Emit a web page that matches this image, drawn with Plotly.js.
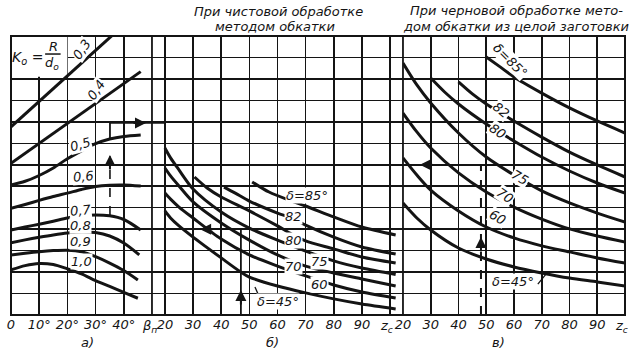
<!DOCTYPE html>
<html><head><meta charset="utf-8">
<script src="https://cdn.plot.ly/plotly-3.0.1.min.js"></script>
<style>html,body{margin:0;padding:0;background:#fff}</style>
</head><body><div id="chart" style="width:635px;height:352px"></div>
<script>
// ---------- Panel а) : K0 = R/d0 curves, x = beta_n (deg), y = grid units ----------
const k03_b = [0, 36];
const k03_y = [8.77, 13.04];
const k04_b = [0, 46];
const k04_y = [7.07, 11.34];
const k05_b = [0, 5, 10, 15, 20, 25, 30, 35, 40, 46];
const k05_y = [6.06, 6.23, 6.5, 6.85, 7.28, 7.65, 7.98, 8.2, 8.32, 8.39];
const k06_b = [0, 5, 10, 15, 20, 25, 30, 35, 40, 46];
const k06_y = [4.97, 5.15, 5.34, 5.52, 5.68, 5.85, 5.99, 6.05, 6.06, 6.01];
const k07_b = [0, 5, 10, 15, 20, 25, 30, 35, 40, 46];
const k07_y = [3.96, 4.1, 4.23, 4.37, 4.52, 4.62, 4.66, 4.62, 4.45, 3.96];
const k08_b = [0, 5, 10, 15, 20, 25, 30, 35, 40, 45.5];
const k08_y = [3.37, 3.5, 3.62, 3.73, 3.82, 3.87, 3.84, 3.68, 3.35, 2.8];
const k09_b = [0, 5, 10, 15, 20, 25, 30, 35, 40, 45];
const k09_y = [2.8, 2.88, 2.95, 3.0, 3.02, 2.95, 2.72, 2.42, 2.07, 1.63];
const k10_b = [0, 5, 10, 15, 20, 25, 30, 35, 40, 45];
const k10_y = [2.1, 2.3, 2.4, 2.35, 2.15, 1.92, 1.6, 1.33, 1.05, 0.78];

// ---------- Panel б) : finishing, x = z_c ----------
const b85_z = [51, 57, 65, 70, 80, 90, 102];
const b85_y = [6.2, 5.73, 5.31, 5.08, 4.57, 4.1, 3.73];
const b82_z = [41, 45, 50, 60, 65, 70, 80, 90, 102];
const b82_y = [5.96, 5.68, 5.31, 4.75, 4.52, 4.19, 3.63, 3.17, 2.84];
const b80_z = [30.5, 35, 40, 50, 60, 65, 70, 80, 90, 102];
const b80_y = [6.43, 5.92, 5.5, 4.85, 4.15, 3.77, 3.45, 3.08, 2.7, 2.42];
const b75_z = [20, 22, 25, 30, 40, 50, 60, 70, 80, 90, 102];
const b75_y = [7.78, 7.32, 6.76, 5.87, 4.8, 4.05, 3.49, 2.98, 2.52, 2.19, 1.89];
const b70_z = [20, 22, 25, 30, 40, 50, 60, 70, 80, 90, 102];
const b70_y = [6.85, 6.48, 6.01, 5.27, 4.29, 3.49, 2.8, 2.28, 1.96, 1.68, 1.35];
const b60_z = [20, 22, 25, 30, 40, 50, 60, 70, 80, 90, 102];
const b60_y = [5.68, 5.4, 5.03, 4.52, 3.54, 2.8, 2.28, 1.82, 1.4, 1.07, 0.79];
const b45_z = [20, 22, 25, 30, 40, 47, 50, 60, 70, 80, 90, 102];
const b45_y = [4.85, 4.52, 4.15, 3.63, 2.66, 2.0, 1.77, 1.35, 1.03, 0.75, 0.51, 0.28];

// ---------- Panel в) : roughing from solid blank, x = z_c ----------
const c85_z = [50, 55, 60, 70, 80, 90, 100];
const c85_y = [12.02, 11.56, 11.09, 10.34, 9.65, 9.04, 8.48];
const c82_z = [40, 45, 50, 60, 70, 80, 90, 100];
const c82_y = [10.86, 10.3, 9.83, 9.04, 8.29, 7.59, 6.99, 6.43];
const c80_z = [30, 35, 40, 50, 60, 70, 80, 90, 100];
const c80_y = [11.04, 10.39, 9.83, 8.9, 8.11, 7.36, 6.71, 6.15, 5.68];
const c75_z = [20, 25, 30, 40, 50, 60, 70, 80, 90, 100];
const c75_y = [11.74, 10.72, 9.88, 8.48, 7.36, 6.52, 5.78, 5.22, 4.75, 4.33];
const c70_z = [20, 25, 30, 40, 50, 60, 70, 80, 90, 100];
const c70_y = [9.41, 8.53, 7.78, 6.62, 5.73, 5.03, 4.47, 4.01, 3.68, 3.4];
const c60_z = [20, 25, 30, 40, 50, 60, 70, 80, 90, 100];
const c60_y = [7.32, 6.52, 5.82, 4.85, 4.1, 3.59, 3.22, 2.94, 2.66, 2.42];
const c45_z = [20, 25, 30, 40, 50, 60, 70, 80, 90, 100];
const c45_y = [5.22, 4.52, 3.96, 3.12, 2.61, 2.24, 1.96, 1.72, 1.54, 1.35];

// ---------- tick labels ----------
const tickA_vals = [0, 10, 20, 30, 40, 50];
const tickA_text = ['0', '10°', '20°', '30°', '40°', ''];
const tickZ_vals = [20, 30, 40, 50, 60, 70, 80, 90, 100];
const tickZ_text = ['20', '30', '40', '50', '60', '70', '80', '90', ''];
const axisNameA = 'β<sub>п</sub>';
const axisNameZ = 'z<sub>c</sub>';
const gridY = [0,1,2,3,4,5,6,7,8,9,10,11,12,13];

const INK = '#141414';
const FONT = 'DejaVu Sans, Liberation Sans, sans-serif';

function curve(x, y, ax) {
  return {x: x, y: y, xaxis: ax, yaxis: 'y', mode: 'lines', hoverinfo: 'skip',
          line: {color: INK, width: 3, shape: 'spline', smoothing: 0.8}};
}
const data = [
  curve(k03_b, k03_y, 'x'), curve(k04_b, k04_y, 'x'), curve(k05_b, k05_y, 'x'),
  curve(k06_b, k06_y, 'x'), curve(k07_b, k07_y, 'x'), curve(k08_b, k08_y, 'x'),
  curve(k09_b, k09_y, 'x'), curve(k10_b, k10_y, 'x'),
  curve(b85_z, b85_y, 'x2'), curve(b82_z, b82_y, 'x2'), curve(b80_z, b80_y, 'x2'),
  curve(b75_z, b75_y, 'x2'), curve(b70_z, b70_y, 'x2'), curve(b60_z, b60_y, 'x2'),
  curve(b45_z, b45_y, 'x2'),
  curve(c85_z, c85_y, 'x3'), curve(c82_z, c82_y, 'x3'), curve(c80_z, c80_y, 'x3'),
  curve(c75_z, c75_y, 'x3'), curve(c70_z, c70_y, 'x3'), curve(c60_z, c60_y, 'x3'),
  curve(c45_z, c45_y, 'x3')
];

const tickFont = {family: FONT, size: 13, color: INK, style: 'italic'};
function xax(domain, range, vals, text) {
  return {domain: domain, range: range, tickvals: vals, ticktext: text, anchor: 'y',
          showgrid: true, gridcolor: INK, gridwidth: 1.6, zeroline: false, showline: false,
          ticks: '', tickfont: tickFont, fixedrange: true};
}
const D1 = 0.2296, D2 = 0.6384;

function lab(text, xref, x, y, angle, bg, size) {
  return {text: text, xref: xref, yref: 'y', x: x, y: y, showarrow: false,
          textangle: angle || 0, bgcolor: bg === false ? 'rgba(0,0,0,0)' : '#fff', borderpad: 0,
          font: {family: FONT, size: size || 13, color: INK, style: 'italic'}};
}
function arrow(xref, x, y, ax, ay) {
  return {text: '', xref: xref, yref: 'y', x: x, y: y, ax: ax, ay: ay, showarrow: true,
          arrowhead: 2, arrowsize: 1.1, arrowwidth: 2, arrowcolor: INK};
}
function ptext(text, x, y, size) {
  return {text: text, xref: 'paper', yref: 'paper', x: x, y: y, showarrow: false,
          xanchor: 'center', yanchor: 'middle',
          font: {family: FONT, size: size, color: INK, style: 'italic'}};
}

const annotations = [
  // panel titles
  ptext('При чистовой обработке', 0.435, 1.088, 13),
  ptext('методом обкатки', 0.43, 1.033, 13),
  ptext('При черновой обработке мето-', 0.8225, 1.09, 13),
  ptext('дом обкатки из целой заготовки', 0.8225, 1.033, 13),
  // sub captions
  ptext('а)', 0.1238, -0.097, 13),
  ptext('б)', 0.4267, -0.097, 13),
  ptext('в)', 0.7932, -0.097, 13),
  // axis names placed as the last tick
  ptext(axisNameA, 0.2255, -0.04, 13),
  ptext(axisNameZ, 0.6115, -0.04, 13),
  ptext(axisNameZ, 0.9935, -0.04, 13),
  // K0 label
  lab('K<sub>o</sub> =', 'x', 6.0, 11.98, 0, false, 14),
  lab('R', 'x', 14.9, 12.52, 0, false, 13),
  lab('d<sub>o</sub>', 'x', 14.6, 11.72, 0, false, 13),
  // panel a curve labels
  lab('0,3', 'x', 25.2, 12.35, -55),
  lab('0,4', 'x', 30.4, 10.49, -55),
  lab('0,5', 'x', 24.5, 7.95, -15),
  lab('0,6', 'x', 25.6, 6.44, -5),
  lab('0,7', 'x', 24.5, 4.89, -5),
  lab('0,8', 'x', 24.5, 4.19, 0),
  lab('0,9', 'x', 24.5, 3.42, 0),
  lab('1,0', 'x', 25.1, 2.48, 0),
  // panel b labels
  lab('δ=85°', 'x2', 70.4, 5.59, 0),
  lab('82', 'x2', 65.6, 4.58, 0),
  lab('80', 'x2', 65.6, 3.49, 0),
  lab('70', 'x2', 65.6, 2.25, 0),
  lab('75', 'x2', 75.1, 2.48, 0),
  lab('60', 'x2', 75.1, 1.40, 0),
  lab('δ=45°', 'x2', 60.3, 0.62, 0),
  // panel c labels
  lab('δ=85°', 'x3', 58.6, 11.85, 45),
  lab('82', 'x3', 55.6, 9.55, 40),
  lab('80', 'x3', 54.2, 8.54, 35),
  lab('75', 'x3', 62.2, 6.43, 30),
  lab('70', 'x3', 56.8, 5.59, 35),
  lab('60', 'x3', 54.2, 4.52, 30),
  lab('δ=45°', 'x3', 59.6, 1.55, 0),
  // example arrows
  arrow('x', 35.1, 7.45, 0, 16),
  arrow('paper', 0.2199, 8.95, -14, 0),
  arrow('x2', 47.0, 1.16, 0, 16),
  arrow('x2', 32.5, 4.0, 14, 0),
  arrow('x3', 48.1, 3.63, 0, 16),
  arrow('x3', 26.1, 7.0, 14, 0)
];

const shapes = [
  {type: 'rect', xref: 'x', yref: 'y', x0: 0.3, x1: 20, y0: 11.1, y1: 12.95,
   fillcolor: '#fff', line: {width: 0}, layer: 'between'},
  {type: 'line', xref: 'x', yref: 'y', x0: 12.1, x1: 17.6, y0: 12.16, y1: 12.16, line: {color: INK, width: 1.5}},
  {type: 'rect', xref: 'paper', yref: 'paper', x0: 0, x1: 1, y0: 0, y1: 1, line: {color: INK, width: 2}},
  {type: 'line', xref: 'paper', yref: 'paper', x0: D1, x1: D1, y0: 0, y1: 1, line: {color: INK, width: 1.8}},
  {type: 'line', xref: 'paper', yref: 'paper', x0: D2, x1: D2, y0: 0, y1: 1, line: {color: INK, width: 1.8}},
  {type: 'line', xref: 'x', yref: 'y', x0: 35.1, x1: 35.1, y0: 4.66, y1: 7.4, line: {color: INK, width: 1.6, dash: 'dash'}},
  {type: 'line', xref: 'x', yref: 'y', x0: 35.1, x1: 35.1, y0: 8.2, y1: 8.95, line: {color: INK, width: 1.8}},
  {type: 'line', xref: 'paper', yref: 'y', x0: 0.1612, x1: 0.2508, y0: 8.95, y1: 8.95, line: {color: INK, width: 1.8}},
  {type: 'line', xref: 'x2', yref: 'y', x0: 47.0, x1: 47.0, y0: 0, y1: 4.0, line: {color: INK, width: 1.8}},
  {type: 'line', xref: 'x3', yref: 'y', x0: 48.1, x1: 48.1, y0: 0, y1: 7.0, line: {color: INK, width: 2, dash: 'dash'}},
  {type: 'line', xref: 'x2', yref: 'y', x0: 53.4, x1: 52.0, y0: 0.89, y1: 1.30, line: {color: INK, width: 1.3}},
  {type: 'line', xref: 'x3', yref: 'y', x0: 68.6, x1: 71.9, y0: 1.44, y1: 1.96, line: {color: INK, width: 1.3}}
];

const layout = {
  width: 635, height: 352,
  margin: {l: 11, r: 10, t: 36, b: 37, pad: 0},
  paper_bgcolor: '#fff', plot_bgcolor: '#fff',
  showlegend: false,
  xaxis: xax([0, D1], [0, 50], tickA_vals, tickA_text),
  xaxis2: xax([D1, D2], [15.4, 104.6], tickZ_vals, tickZ_text),
  xaxis3: xax([D2, 1], [20, 100], tickZ_vals, tickZ_text),
  yaxis: {domain: [0, 1], range: [0, 13], tickvals: gridY, showticklabels: false, anchor: 'x',
          showgrid: true, gridcolor: INK, gridwidth: 1.6, zeroline: false, ticks: '', fixedrange: true},
  annotations: annotations,
  shapes: shapes
};

Plotly.newPlot('chart', data, layout, {staticPlot: true, displayModeBar: false});
</script></body></html>
